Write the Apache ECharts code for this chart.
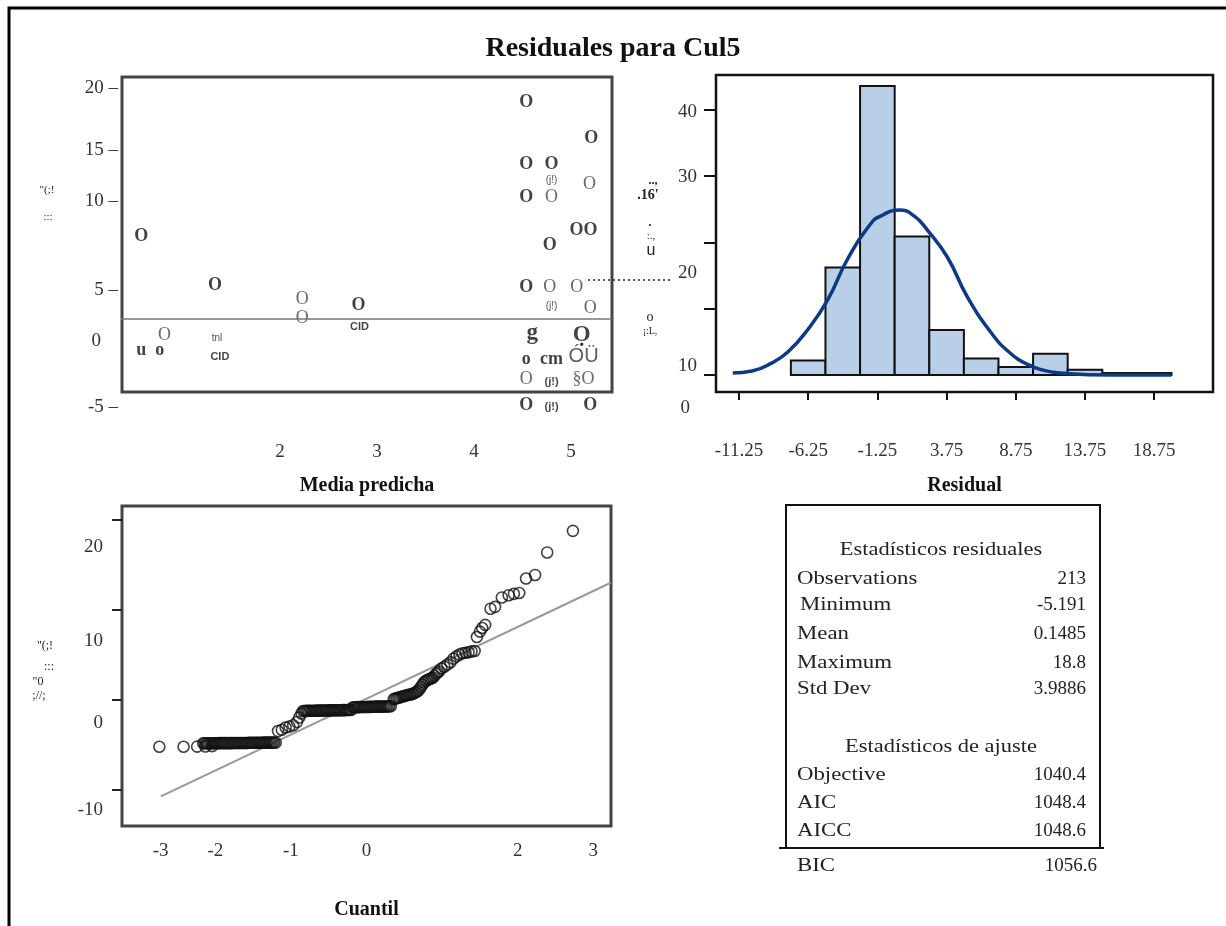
<!DOCTYPE html>
<html>
<head>
<meta charset="utf-8">
<title>Residuales para Cul5</title>
<script src="https://cdn.jsdelivr.net/npm/echarts@6/dist/echarts.min.js"></script>
<style>
html, body { margin: 0; padding: 0; background: #fff; }
#chart { width: 1226px; height: 926px; }
</style>
</head>
<body>
<div id="chart"></div>
<script>
// ---------- datos ----------
// residual vs media predicha: los puntos salen como glifos en la imagen
const darkX = [0.57, 0.57, 0.76, 1.33, 2.81, 4.54, 4.54, 4.54, 4.54, 4.54, 4.54, 4.80, 4.78, 4.80, 5.21, 5.13, 5.20];
const darkY = [8.40, -0.53, -0.53, 4.56, 2.99, 18.88, 14.04, 11.40, 4.38, -1.26, -4.84, 14.04, 7.70, -1.26, 16.06, 8.82, -4.84];
const darkText = ['O', 'u', 'o', 'O', 'O', 'O', 'O', 'O', 'O', 'o', 'O', 'O', 'O', 'cm', 'O', 'OO', 'O'];

const lightX = [0.81, 2.23, 2.23, 4.54, 4.80, 4.78, 5.19, 5.06, 5.20, 5.13];
const lightY = [0.64, 3.44, 1.95, -2.83, 11.40, 4.38, 12.45, 4.38, 2.74, -2.83];
const lightText = ['O', 'O', 'O', 'O', 'O', 'O', 'O', 'O', 'O', '§O'];

const tinyX = [1.35, 4.80, 4.80];
const tinyY = [0.38, 12.79, 2.92];
const tinyText = ['tnl', '(j!)', '(j!)'];

const tinyBoldX = [1.38, 2.82, 4.80, 4.80];
const tinyBoldY = [-1.10, 1.29, -3.01, -5.02];
const tinyBoldText = ['CID', 'CID', '(j!)', '(j!)'];

const bigX = [4.60, 5.11];
const bigY = [0.78, 0.64];
const bigText = ['g', 'Ọ'];

const wideX = [5.13];
const wideY = [-1.06];
const wideText = ['ÓÜ'];

const refLineX = [0.24, 5.42];
const refLineY = [1.90, 1.90];

// histograma (porcentaje por clase de 2.5)
const binEdges = [-7.5, -5, -2.5, 0, 2.5, 5, 7.5, 10, 12.5, 15, 17.5, 20];
const binPercent = [2.2, 16.2, 43.6, 20.9, 6.8, 2.5, 1.2, 3.2, 0.8, 0.3, 0.3];
const curveX = [-11.7, -10.3, -8.9, -7.7, -6.3, -4.85, -3.4, -1.7, -1.1, 0.35, 1.4, 2.35, 3.8, 5.25, 7.0, 8.3, 9.6, 10.8, 11.9, 14.0, 17.0, 20.0];
const curveY = [0.3, 0.6, 1.8, 3.5, 6.8, 11.3, 17.5, 22.9, 23.9, 24.9, 24.0, 21.9, 17.8, 11.8, 6.3, 3.4, 1.6, 0.7, 0.3, 0.05, 0, 0];

// QQ: cuantil normal vs residual (un tramo por linea)
const qqTheo = [
  -2.74, -2.42, -2.24, -2.13, -2.04,
  -2.16, -2.14, -2.12, -2.10, -2.08, -2.06, -2.04, -2.02, -2.00, -1.98, -1.96, -1.94, -1.92, -1.90, -1.88, -1.86, -1.84, -1.82, -1.80, -1.78, -1.76, -1.74, -1.72, -1.70, -1.68, -1.66, -1.64, -1.62, -1.60, -1.58, -1.56, -1.54, -1.52, -1.50, -1.48, -1.46, -1.44, -1.42, -1.40, -1.38, -1.36, -1.34, -1.32, -1.30, -1.28, -1.26, -1.24, -1.22, -1.20,
  -1.17, -1.12, -1.07, -1.02, -0.97, -0.92, -0.89, -0.86,
  -0.84, -0.82, -0.80, -0.78, -0.76, -0.74, -0.72, -0.70, -0.68, -0.66, -0.64, -0.62, -0.60, -0.58, -0.56, -0.54, -0.52, -0.50, -0.48, -0.46, -0.44, -0.42, -0.40, -0.38, -0.36, -0.34, -0.32, -0.30, -0.28, -0.26, -0.24, -0.22, -0.20,
  -0.18, -0.16, -0.14, -0.12, -0.10, -0.08, -0.06, -0.04, -0.02, 0.00, 0.02, 0.04, 0.06, 0.08, 0.10, 0.12, 0.14, 0.16, 0.18, 0.20, 0.22, 0.24, 0.26, 0.28, 0.30, 0.32,
  0.36, 0.38, 0.40, 0.42, 0.44, 0.46, 0.48, 0.50, 0.52, 0.54, 0.56, 0.58, 0.60, 0.62, 0.64, 0.66, 0.68, 0.70, 0.72, 0.74, 0.76, 0.78, 0.80, 0.82, 0.84, 0.86, 0.88, 0.90, 0.92, 0.94, 0.96, 0.99, 1.03, 1.07, 1.11, 1.15, 1.19, 1.23, 1.27, 1.31, 1.35, 1.39, 1.43,
  1.46, 1.50, 1.53, 1.57, 1.64, 1.70, 1.79, 1.88, 1.95, 2.02, 2.11, 2.23, 2.39, 2.73
];
const qqResid = [
  -5.19, -5.19, -5.18, -5.16, -5.12,
  -4.81, -4.81, -4.81, -4.81, -4.81, -4.81, -4.81, -4.81, -4.81, -4.81, -4.79, -4.79, -4.79, -4.79, -4.79, -4.79, -4.79, -4.79, -4.79, -4.79, -4.77, -4.77, -4.77, -4.77, -4.77, -4.77, -4.77, -4.77, -4.77, -4.77, -4.75, -4.75, -4.75, -4.75, -4.75, -4.75, -4.75, -4.75, -4.75, -4.75, -4.73, -4.73, -4.73, -4.73, -4.73, -4.73, -4.73, -4.73, -4.73,
  -3.45, -3.30, -3.05, -2.95, -2.80, -2.45, -1.95, -1.50,
  -1.22, -1.22, -1.21, -1.21, -1.20, -1.20, -1.20, -1.19, -1.19, -1.18, -1.18, -1.18, -1.17, -1.17, -1.16, -1.16, -1.16, -1.15, -1.15, -1.15, -1.14, -1.14, -1.14, -1.13, -1.13, -1.13, -1.12, -1.12, -1.12, -1.11, -1.11, -1.10, -1.10,
  -0.80, -0.80, -0.80, -0.79, -0.79, -0.78, -0.78, -0.78, -0.77, -0.77, -0.76, -0.76, -0.76, -0.75, -0.75, -0.74, -0.74, -0.74, -0.73, -0.73, -0.72, -0.72, -0.72, -0.71, -0.71, -0.70,
  0.10, 0.15, 0.20, 0.25, 0.30, 0.35, 0.40, 0.45, 0.50, 0.54, 0.58, 0.62, 0.66, 0.72, 0.80, 0.90, 1.00, 1.20, 1.45, 1.70, 1.95, 2.10, 2.20, 2.28, 2.35, 2.42, 2.50, 2.70, 2.90, 3.05, 3.20, 3.50, 3.70, 3.95, 4.20, 4.60, 4.85, 5.05, 5.20, 5.25, 5.30, 5.40, 5.45,
  7.00, 7.60, 8.00, 8.35, 10.15, 10.35, 11.40, 11.65, 11.80, 11.90, 13.50, 13.90, 16.40, 18.80
];
const qqLineX = [-2.72, 3.23];
const qqLineY = [-10.70, 13.03];

// marcas de los ejes
const predTicks = [2, 3, 4, 5];
const residTicks = [-5, 0, 5, 10, 15, 20];
const residTickLabels = ['-5 –', '0', '5 –', '10 –', '15 –', '20 –'];
const binTicks = [-11.25, -6.25, -1.25, 3.75, 8.75, 13.75, 18.75];
const pctTicks = [0, 10, 20, 30, 40];
const quantTicks = [-3, -2, -1, 0, 2, 3];
const qqResidTicks = [-10, 0, 10, 20];

// tabla de estadisticos
const statNames = ['Observations', 'Minimum', 'Mean', 'Maximum', 'Std Dev'];
const statValues = ['213', '-5.191', '0.1485', '18.8', '3.9886'];
const fitNames = ['Objective', 'AIC', 'AICC', 'BIC'];
const fitValues = ['1040.4', '1048.4', '1048.6', '1056.6'];

// ---------- helpers ----------
const serif = "'Liberation Serif', 'Times New Roman', serif";
const sans = "'Liberation Sans', 'DejaVu Sans', sans-serif";

// etiquetas desplazadas como en la imagen original
function padRich(pads) {
  const keys = Object.keys(pads);
  const rich = {};
  keys.forEach(function (k, i) { rich['p' + i] = { padding: pads[k] }; });
  return {
    rich: rich,
    wrap: function (v, txt) {
      const i = keys.indexOf(String(v));
      return i < 0 ? txt : '{p' + i + '|' + txt + '}';
    }
  };
}

function zipPts(xs, ys, names) {
  return xs.map(function (x, i) {
    return names ? { name: names[i], value: [x, ys[i]] } : [x, ys[i]];
  });
}

function glyphSeries(xs, ys, txt, font) {
  return {
    type: 'scatter', xAxisIndex: 0, yAxisIndex: 0, silent: true, clip: false,
    symbolSize: 1, itemStyle: { color: 'rgba(0,0,0,0)' },
    label: Object.assign({ show: true, position: 'inside', formatter: '{b}' }, font),
    data: zipPts(xs, ys, txt)
  };
}

function frame(x, y, w, h, color, lw) {
  return { type: 'rect', silent: true, shape: { x: x, y: y, width: w, height: h },
    style: { fill: null, stroke: color, lineWidth: lw } };
}

function txt(text, x, y, font, align, scaleX) {
  return { type: 'text', x: x, y: y, scaleX: scaleX || 1, silent: true,
    style: { text: text, x: 0, y: 0, font: font, fill: '#222',
      textAlign: align || 'left', textVerticalAlign: 'middle' } };
}

const labelFont = { fontFamily: serif, fontSize: 19, color: '#333' };
const nameFont = { fontFamily: serif, fontSize: 20, fontWeight: 'bold', color: '#111' };
const noZero = { show: false, onZero: false };

const residPads = padRich({ '15': [0, 0, 4, 0], '10': [0, 0, 30, 0], '5': [22, 0, 0, 0], '0': [0, 17, 4, 0] });
const pctPads = padRich({ '40': [4, 0, 0, 0], '30': [2, 0, 0, 0], '20': [62, 0, 0, 0], '10': [114, 0, 0, 0], '0': [66, 7, 0, 0] });
const qqYPads = padRich({ '20': [54, 0, 0, 0], '10': [62, 0, 0, 0], '0': [46, 0, 0, 0], '-10': [40, 0, 0, 0] });
const qqXPads = padRich({ '-3': [0, 0, 0, 42] });

// ---------- graficos fijos ----------
const graphics = [
  { type: 'polyline', silent: true, shape: { points: [[9, 926], [9, 8], [1226, 8]] },
    style: { stroke: '#000', lineWidth: 3, fill: null } },
  frame(122, 77, 490, 315, '#444', 3),
  frame(716, 75, 497, 317, '#111', 2.5),
  frame(122, 506, 489, 320, '#444', 3),
  frame(786, 505, 314, 343, '#111', 2),
  { type: 'line', silent: true, shape: { x1: 779, y1: 848, x2: 1104, y2: 848 },
    style: { stroke: '#111', lineWidth: 2 } },
  { type: 'line', silent: true, shape: { x1: 588, y1: 280, x2: 672, y2: 280 },
    style: { stroke: '#222', lineWidth: 1.5, lineDash: [2, 3] } },
  // restos del titulo de eje (texto ilegible del original)
  txt('"(;!', 47, 190, '11px ' + serif, 'center'),
  txt(':::', 48, 217, '11px ' + serif, 'center'),
  txt('..,', 653, 181, 'bold 12px ' + serif, 'center'),
  txt(".16'", 648, 195, 'bold 14px ' + serif, 'center'),
  txt('.', 650, 223, 'bold 12px ' + serif, 'center'),
  txt(':.,', 651, 236, '11px ' + serif, 'center'),
  txt('u', 651, 251, '16px ' + sans, 'center'),
  txt('o', 650, 317, '14px ' + serif, 'center'),
  txt('¡:L,', 650, 331, '10px ' + serif, 'center'),
  txt('"(;!', 45, 646, '12px ' + serif, 'center'),
  txt(':::', 49, 667, '12px ' + serif, 'center'),
  txt('"0', 38, 682, '12px ' + serif, 'center'),
  txt(';//;', 39, 696, '12px ' + serif, 'center'),
  txt('Estadísticos residuales', 941, 550, '19px ' + serif, 'center', 1.18),
  txt('Estadísticos de ajuste', 941, 747, '19px ' + serif, 'center', 1.18)
];
const statRows = [579, 605, 634, 663, 689];
statNames.forEach(function (n, i) {
  graphics.push(txt(n, i === 1 ? 800 : 797, statRows[i], '19px ' + serif, 'left', 1.2));
  graphics.push(txt(statValues[i], 1086, statRows[i], '19px ' + serif, 'right'));
});
const fitRows = [775, 803, 831, 866];
fitNames.forEach(function (n, i) {
  graphics.push(txt(n, 797, fitRows[i], '19px ' + serif, 'left', 1.2));
  graphics.push(txt(fitValues[i], i === 3 ? 1097 : 1086, fitRows[i], '19px ' + serif, 'right'));
});

// ---------- opciones ----------
const chart = echarts.init(document.getElementById('chart'), null, { renderer: 'canvas' });

const option = {
  animation: false,
  backgroundColor: '#fff',
  title: {
    text: 'Residuales para Cul5', left: 'center', top: 35, padding: 0,
    textStyle: { fontFamily: serif, fontSize: 28, fontWeight: 'bold', color: '#111' }
  },
  grid: [
    { left: 122, top: 88, width: 490, height: 319 },
    { left: 716, top: 75, width: 497, height: 317 },
    { left: 122, top: 506, width: 489, height: 320 }
  ],
  xAxis: [
    {
      gridIndex: 0, type: 'value', min: 0.371, max: 5.423,
      name: 'Media predicha', nameLocation: 'middle', nameGap: 69, nameTextStyle: nameFont,
      axisLine: noZero, axisTick: { show: false }, splitLine: { show: false },
      axisLabel: Object.assign({ customValues: predTicks, margin: 36 }, labelFont)
    },
    {
      gridIndex: 1, type: 'value', min: -12.91, max: 23.0,
      name: 'Residual', nameLocation: 'middle', nameGap: 84, nameTextStyle: nameFont,
      axisLine: noZero, splitLine: { show: false },
      axisTick: { show: true, customValues: binTicks, length: 8, lineStyle: { color: '#111', width: 2 } },
      axisLabel: Object.assign({ customValues: binTicks, margin: 50 }, labelFont)
    },
    {
      gridIndex: 2, type: 'value', min: -3.234, max: 3.234,
      name: 'Cuantil', nameLocation: 'middle', nameGap: 74, nameTextStyle: nameFont,
      axisLine: noZero, axisTick: { show: false }, splitLine: { show: false },
      axisLabel: Object.assign({
        customValues: quantTicks, margin: 16, rich: qqXPads.rich,
        formatter: function (v) { return qqXPads.wrap(v, String(v)); }
      }, labelFont)
    }
  ],
  yAxis: [
    {
      gridIndex: 0, type: 'value', min: -5, max: 20,
      axisLine: noZero, axisTick: { show: false }, splitLine: { show: false },
      axisLabel: Object.assign({
        customValues: residTicks, margin: 4, rich: residPads.rich,
        formatter: function (v) { return residPads.wrap(v, residTickLabels[residTicks.indexOf(v)]); }
      }, labelFont)
    },
    {
      gridIndex: 1, type: 'value', min: -2.56, max: 45.25,
      axisLine: noZero, splitLine: { show: false },
      axisTick: { show: true, customValues: pctTicks, length: 12, lineStyle: { color: '#111', width: 2 } },
      axisLabel: Object.assign({
        customValues: pctTicks, margin: 19, rich: pctPads.rich,
        formatter: function (v) { return pctPads.wrap(v, String(v)); }
      }, labelFont)
    },
    {
      gridIndex: 2, type: 'value', min: -14, max: 21.56,
      axisLine: noZero, splitLine: { show: false },
      axisTick: { show: true, customValues: qqResidTicks, length: 10, lineStyle: { color: '#222', width: 2 } },
      axisLabel: Object.assign({
        customValues: qqResidTicks, margin: 19, rich: qqYPads.rich,
        formatter: function (v) { return qqYPads.wrap(v, String(v)); }
      }, labelFont)
    }
  ],
  graphic: { elements: graphics },
  series: [
    {
      type: 'line', xAxisIndex: 0, yAxisIndex: 0, silent: true, clip: false, symbol: 'none',
      lineStyle: { color: '#777', width: 1.5 }, data: zipPts(refLineX, refLineY)
    },
    glyphSeries(darkX, darkY, darkText, { fontFamily: serif, fontSize: 18, fontWeight: 'bold', color: '#111' }),
    glyphSeries(lightX, lightY, lightText, { fontFamily: serif, fontSize: 18, color: '#444' }),
    glyphSeries(tinyX, tinyY, tinyText, { fontFamily: sans, fontSize: 10, color: '#222' }),
    glyphSeries(tinyBoldX, tinyBoldY, tinyBoldText, { fontFamily: sans, fontSize: 11, fontWeight: 'bold', color: '#111' }),
    glyphSeries(bigX, bigY, bigText, { fontFamily: serif, fontSize: 23, fontWeight: 'bold', color: '#111' }),
    glyphSeries(wideX, wideY, wideText, { fontFamily: sans, fontSize: 20, color: '#333' }),
    {
      type: 'custom', xAxisIndex: 1, yAxisIndex: 1, silent: true,
      encode: { x: [0, 1], y: 2 },
      data: binPercent.map(function (p, i) { return [binEdges[i], binEdges[i + 1], p]; }),
      renderItem: function (params, api) {
        const a = api.coord([api.value(0), api.value(2)]);
        const b = api.coord([api.value(1), 0]);
        return {
          type: 'rect',
          shape: { x: a[0], y: a[1], width: b[0] - a[0], height: b[1] - a[1] },
          style: { fill: '#b9cfe8', stroke: '#111', lineWidth: 2 }
        };
      }
    },
    {
      type: 'line', xAxisIndex: 1, yAxisIndex: 1, silent: true, smooth: true, symbol: 'none',
      lineStyle: { color: '#0c3a86', width: 3.5 }, data: zipPts(curveX, curveY), z: 5
    },
    {
      type: 'line', xAxisIndex: 2, yAxisIndex: 2, silent: true, symbol: 'none',
      lineStyle: { color: '#999', width: 2 }, data: zipPts(qqLineX, qqLineY)
    },
    {
      type: 'scatter', xAxisIndex: 2, yAxisIndex: 2, silent: true, symbol: 'circle', symbolSize: 11,
      itemStyle: { color: 'rgba(0,0,0,0)', borderColor: '#111', borderWidth: 1.6 },
      data: zipPts(qqTheo, qqResid), z: 4
    }
  ]
};

chart.setOption(option);
window.addEventListener('resize', function () { chart.resize(); });
</script>
</body>
</html>
